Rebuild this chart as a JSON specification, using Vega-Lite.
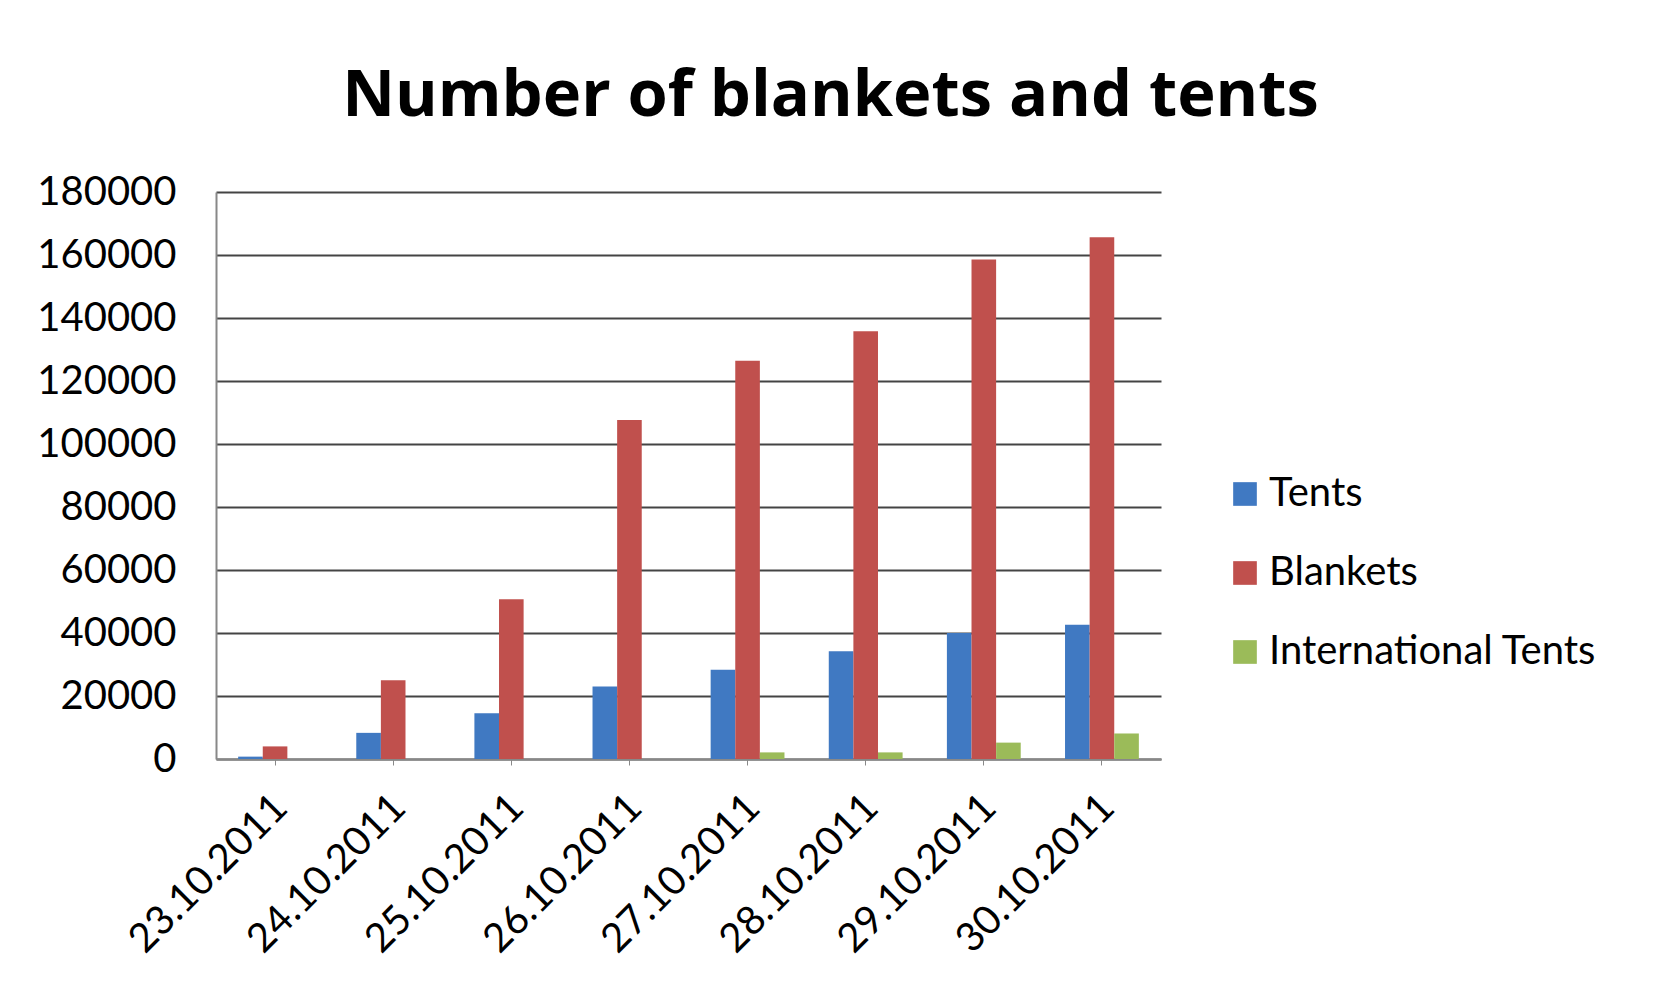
{
  "$schema": "https://vega.github.io/schema/vega-lite/v6.json",
  "autosize": "none",
  "width": 945,
  "height": 567,
  "padding": {"left": 216, "top": 192, "right": 494, "bottom": 235},
  "background": "white",
  "title": {
    "text": "Number of blankets and tents",
    "fontSize": 65,
    "font": "Open Sans",
    "fontWeight": "bold",
    "color": "black",
    "anchor": "middle",
    "frame": "group",
    "dx": 142,
    "offset": 42
  },
  "data": {
    "values": [
      {"date": "23.10.2011", "series": "Tents", "value": 750},
      {"date": "23.10.2011", "series": "Blankets", "value": 4000},
      {"date": "23.10.2011", "series": "International Tents", "value": 0},
      {"date": "24.10.2011", "series": "Tents", "value": 8300},
      {"date": "24.10.2011", "series": "Blankets", "value": 25000},
      {"date": "24.10.2011", "series": "International Tents", "value": 0},
      {"date": "25.10.2011", "series": "Tents", "value": 14500},
      {"date": "25.10.2011", "series": "Blankets", "value": 50700},
      {"date": "25.10.2011", "series": "International Tents", "value": 0},
      {"date": "26.10.2011", "series": "Tents", "value": 23000},
      {"date": "26.10.2011", "series": "Blankets", "value": 107600},
      {"date": "26.10.2011", "series": "International Tents", "value": 0},
      {"date": "27.10.2011", "series": "Tents", "value": 28300},
      {"date": "27.10.2011", "series": "Blankets", "value": 126400},
      {"date": "27.10.2011", "series": "International Tents", "value": 2100},
      {"date": "28.10.2011", "series": "Tents", "value": 34200},
      {"date": "28.10.2011", "series": "Blankets", "value": 135800},
      {"date": "28.10.2011", "series": "International Tents", "value": 2100},
      {"date": "29.10.2011", "series": "Tents", "value": 40000},
      {"date": "29.10.2011", "series": "Blankets", "value": 158600},
      {"date": "29.10.2011", "series": "International Tents", "value": 5200},
      {"date": "30.10.2011", "series": "Tents", "value": 42600},
      {"date": "30.10.2011", "series": "Blankets", "value": 165600},
      {"date": "30.10.2011", "series": "International Tents", "value": 8100}
    ]
  },
  "mark": {"type": "bar"},
  "encoding": {
    "x": {
      "field": "date",
      "type": "nominal",
      "sort": null,
      "scale": {"paddingInner": 0, "paddingOuter": 0},
      "axis": {
        "title": null,
        "labelAngle": -45,
        "labelFontSize": 40,
        "labelFont": "Lato",
        "labelColor": "black",
        "labelPadding": 22,
        "labelOffset": -8,
        "labelLimit": 0,
        "ticks": true,
        "tickSize": 6,
        "tickColor": "#888",
        "domainColor": "#888",
        "domainWidth": 2,
        "grid": false
      }
    },
    "xOffset": {
      "field": "series",
      "type": "nominal",
      "sort": ["Tents", "Blankets", "International Tents"],
      "scale": {"paddingInner": 0, "paddingOuter": 0.9}
    },
    "y": {
      "field": "value",
      "type": "quantitative",
      "scale": {"domain": [0, 180000], "nice": false},
      "axis": {
        "title": null,
        "values": [0, 20000, 40000, 60000, 80000, 100000, 120000, 140000, 160000, 180000],
        "format": "d",
        "labelFontSize": 40,
        "labelFont": "Lato",
        "labelColor": "black",
        "labelPadding": 40,
        "labelLimit": 0,
        "ticks": false,
        "domainColor": "#888",
        "domainWidth": 2,
        "grid": true,
        "gridColor": "#444",
        "gridWidth": 2
      }
    },
    "color": {
      "field": "series",
      "type": "nominal",
      "sort": ["Tents", "Blankets", "International Tents"],
      "scale": {
        "domain": ["Tents", "Blankets", "International Tents"],
        "range": ["#4079C2", "#C0504D", "#9BBB59"]
      },
      "legend": {
        "title": null,
        "orient": "none",
        "legendX": 1009,
        "legendY": 282,
        "symbolType": "square",
        "symbolSize": 560,
        "symbolStrokeWidth": 0,
        "labelFontSize": 40,
        "labelFont": "Lato",
        "labelColor": "black",
        "labelOffset": 4,
        "labelLimit": 0,
        "rowPadding": 39
      }
    }
  },
  "config": {"view": {"stroke": null}}
}
